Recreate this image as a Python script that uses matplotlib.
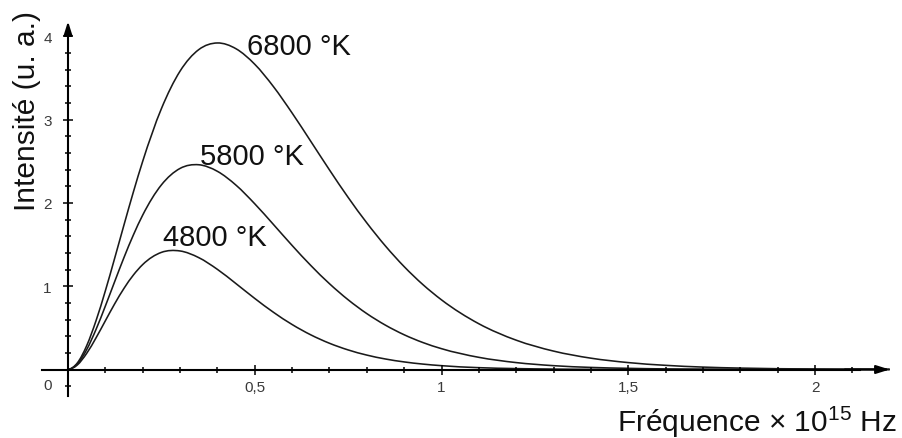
import matplotlib
matplotlib.use("Agg")
import matplotlib.pyplot as plt
from matplotlib.path import Path
from matplotlib.patches import PathPatch

plt.rcParams["font.family"] = ["Liberation Sans", "DejaVu Sans"]
plt.rcParams["mathtext.fontset"] = "custom"
plt.rcParams["mathtext.rm"] = "Liberation Sans"
plt.rcParams["mathtext.it"] = "Liberation Sans:italic"

# frequency in units of 1e15 Hz, intensity in arbitrary units
freq = [0, 0.025, 0.05, 0.075, 0.1, 0.125, 0.15, 0.175, 0.2, 0.25, 0.3, 0.35,
        0.4, 0.45, 0.5, 0.55, 0.6, 0.65, 0.7, 0.75, 0.8, 0.85, 0.9, 0.95, 1.0,
        1.1, 1.2, 1.3, 1.4, 1.5, 1.6, 1.7, 1.8, 2.0, 2.2]

intensity_6800 = [0, 0.079, 0.286, 0.586, 0.945, 1.337, 1.738, 2.131, 2.500,
                  3.131, 3.582, 3.840, 3.920, 3.850, 3.664, 3.396, 3.079, 2.739,
                  2.396, 2.066, 1.760, 1.482, 1.235, 1.020, 0.836, 0.549, 0.352,
                  0.221, 0.136, 0.083, 0.050, 0.029, 0.017, 0.006, 0.002]
intensity_5800 = [0, 0.067, 0.239, 0.481, 0.762, 1.056, 1.346, 1.615, 1.854,
                  2.216, 2.414, 2.458, 2.379, 2.212, 1.989, 1.741, 1.489, 1.249,
                  1.030, 0.837, 0.671, 0.532, 0.417, 0.324, 0.250, 0.146, 0.083,
                  0.046, 0.025, 0.014, 0.007, 0.004, 0.002, 0.0005, 0.0001]
intensity_4800 = [0, 0.055, 0.194, 0.380, 0.585, 0.789, 0.975, 1.134, 1.260,
                  1.406, 1.423, 1.343, 1.202, 1.030, 0.853, 0.687, 0.540, 0.416,
                  0.315, 0.235, 0.173, 0.126, 0.091, 0.065, 0.046, 0.022, 0.011,
                  0.005, 0.002, 0.001, 0.0005, 0.0002, 0.0001, 0, 0]

curve_labels = ["6800 °K", "5800 °K", "4800 °K"]
label_pos = [(0.479, 3.88), (0.353, 2.56), (0.254, 1.59)]

x_major = [0.5, 1, 1.5, 2]
x_major_labels = ["0,5", "1", "1,5", "2"]
x_minor = [i / 10 for i in range(1, 22)]
y_major = [1, 2, 3, 4]
y_major_labels = ["1", "2", "3", "4"]
y_minor = [i / 5 for i in range(-1, 20) if i != 0]

INK = "#111111"
TICK_INK = "#3a3a3a"


def smooth_path(xs, ys):
    """Cubic Bezier path through the given points (Hermite tangents from
    neighbouring secants), so the curve is drawn smooth instead of as a polyline."""
    n = len(xs)
    h = [xs[i + 1] - xs[i] for i in range(n - 1)]
    d = [(ys[i + 1] - ys[i]) / h[i] for i in range(n - 1)]
    m = [0.0] * n
    for i in range(1, n - 1):
        m[i] = (h[i - 1] * d[i] + h[i] * d[i - 1]) / (h[i - 1] + h[i])
    m[0] = 2 * d[0] - m[1]
    m[-1] = d[-1]
    verts = [(xs[0], ys[0])]
    codes = [Path.MOVETO]
    for i in range(n - 1):
        verts += [(xs[i] + h[i] / 3, ys[i] + m[i] * h[i] / 3),
                  (xs[i + 1] - h[i] / 3, ys[i + 1] - m[i + 1] * h[i] / 3),
                  (xs[i + 1], ys[i + 1])]
        codes += [Path.CURVE4] * 3
    return Path(verts, codes)


fig = plt.figure(figsize=(9.02, 4.39), dpi=100)
fig.patch.set_facecolor("white")
ax = fig.add_axes([0, 0, 1, 1])
ax.set_xlim(-0.1821, 2.2329)
ax.set_ylim(-0.8223, 4.4478)

for ys in (intensity_6800, intensity_5800, intensity_4800):
    ax.add_patch(PathPatch(smooth_path(freq, ys), facecolor="none",
                           edgecolor="#1a1a1a", linewidth=1.15))

for text, (x, y) in zip(curve_labels, label_pos):
    ax.text(x, y, text, fontsize=21, color=INK, ha="left", va="center")

# axes drawn through the origin, with arrow heads
for side in ("top", "right"):
    ax.spines[side].set_visible(False)
ax.spines["left"].set_position(("data", 0))
ax.spines["bottom"].set_position(("data", 0))
ax.spines["left"].set_bounds(-0.32, 4.05)
ax.spines["bottom"].set_bounds(-0.07, 2.12)
for side in ("left", "bottom"):
    ax.spines[side].set_linewidth(1.5)
    ax.spines[side].set_color("black")

arrow = dict(arrowstyle="-|>,head_length=0.8,head_width=0.25", color="black",
             lw=1.5, shrinkA=0, shrinkB=0)
ax.annotate("", xy=(0, 4.18), xytext=(0, 4.0), arrowprops=arrow)
ax.annotate("", xy=(2.2, 0), xytext=(2.08, 0), arrowprops=arrow)

ax.set_xticks(x_major)
ax.set_xticklabels(x_major_labels)
ax.set_xticks(x_minor, minor=True)
ax.set_yticks(y_major)
ax.set_yticklabels(y_major_labels)
ax.set_yticks(y_minor, minor=True)
ax.tick_params(which="major", direction="inout", length=6.5, width=1.1,
               labelsize=11, labelcolor=TICK_INK)
ax.tick_params(which="minor", direction="inout", length=4.5, width=1.1)
ax.tick_params(axis="x", which="major", pad=4.2)
ax.tick_params(axis="y", which="major", pad=8.5)

ax.text(-0.0535, -0.186, "0", fontsize=11, color=TICK_INK, ha="center", va="center")

ax.text(-0.111, 3.11, "Intensité (u. a.)", fontsize=21.5, color=INK,
        rotation=90, ha="center", va="center")
ax.text(2.22, -0.62, "Fréquence × 10$^{15}$ Hz", fontsize=21.5, color=INK,
        ha="right", va="center")

ax.set_facecolor("white")
fig.savefig("out.png", dpi=100, facecolor="white")
